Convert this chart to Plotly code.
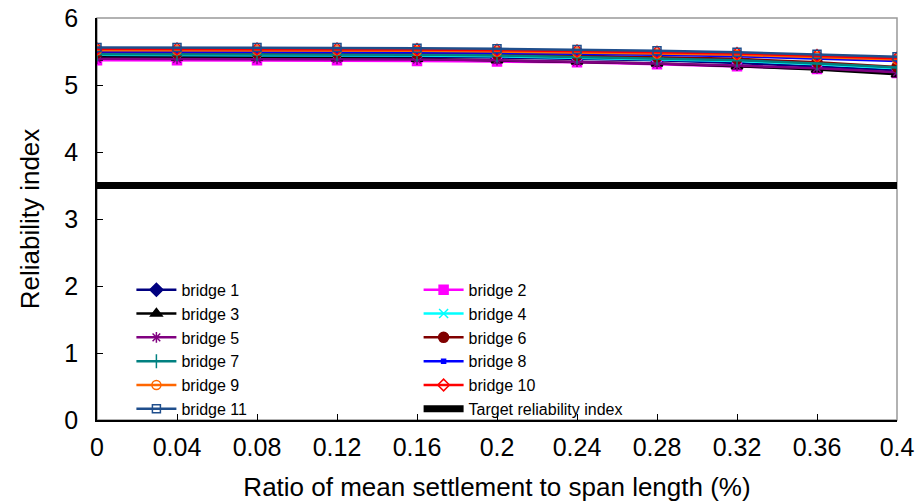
import plotly.graph_objects as go

# settlement ratio (%) on the x axis
ratio = [0, 0.04, 0.08, 0.12, 0.16, 0.2, 0.24, 0.28, 0.32, 0.36, 0.4]
tick_text = ["0", "0.04", "0.08", "0.12", "0.16", "0.2", "0.24", "0.28", "0.32", "0.36", "0.4"]

# reliability index of each bridge
bridge_1 = [5.43, 5.43, 5.43, 5.43, 5.42, 5.41, 5.39, 5.37, 5.33, 5.28, 5.22]
bridge_2 = [5.37, 5.37, 5.37, 5.37, 5.36, 5.35, 5.34, 5.31, 5.28, 5.24, 5.18]
bridge_3 = [5.41, 5.41, 5.41, 5.40, 5.39, 5.37, 5.35, 5.32, 5.28, 5.23, 5.16]
bridge_4 = [5.45, 5.45, 5.45, 5.45, 5.44, 5.43, 5.41, 5.39, 5.36, 5.31, 5.25]
bridge_5 = [5.39, 5.39, 5.39, 5.39, 5.38, 5.37, 5.35, 5.32, 5.29, 5.25, 5.19]
bridge_6 = [5.48, 5.48, 5.48, 5.48, 5.47, 5.46, 5.44, 5.42, 5.39, 5.34, 5.27]
bridge_7 = [5.46, 5.46, 5.46, 5.46, 5.45, 5.44, 5.42, 5.40, 5.37, 5.32, 5.26]
bridge_8 = [5.50, 5.50, 5.50, 5.50, 5.49, 5.48, 5.47, 5.45, 5.43, 5.40, 5.36]
bridge_9 = [5.52, 5.52, 5.52, 5.52, 5.51, 5.50, 5.49, 5.47, 5.45, 5.42, 5.38]
bridge_10 = [5.54, 5.54, 5.54, 5.54, 5.53, 5.52, 5.51, 5.49, 5.47, 5.44, 5.40]
bridge_11 = [5.56, 5.56, 5.56, 5.56, 5.55, 5.54, 5.53, 5.51, 5.49, 5.46, 5.42]

target_x = [0, 0.4]
target = [3.5, 3.5]

FONT = "Arial, Liberation Sans, sans-serif"

# name, values, colour, marker symbol, marker size, legend
series = [
    ("bridge 1", bridge_1, "#000080", "diamond", 10, "legend"),
    ("bridge 2", bridge_2, "#FF00FF", "square", 9, "legend2"),
    ("bridge 3", bridge_3, "#000000", "triangle-up", 10, "legend"),
    ("bridge 4", bridge_4, "#00FFFF", "x-thin-open", 9, "legend2"),
    ("bridge 5", bridge_5, "#800080", "asterisk-open", 9, "legend"),
    ("bridge 6", bridge_6, "#800000", "circle", 10, "legend2"),
    ("bridge 7", bridge_7, "#008080", "cross-thin-open", 10, "legend"),
    ("bridge 8", bridge_8, "#0000FF", "square", 4, "legend2"),
    ("bridge 9", bridge_9, "#FF6600", "circle-open", 9, "legend"),
    ("bridge 10", bridge_10, "#FF0000", "diamond-open", 9, "legend2"),
    ("bridge 11", bridge_11, "#1F4E8C", "square-open", 8, "legend"),
]

fig = go.Figure()

for name, vals, color, symbol, size, leg in series:
    fig.add_trace(go.Scatter(
        x=ratio,
        y=vals,
        mode="lines+markers",
        name=name,
        legend=leg,
        line=dict(color=color, width=2.5),
        marker=dict(symbol=symbol, size=size, color=color,
                    line=dict(color=color, width=1.5)),
    ))

fig.add_trace(go.Scatter(
    x=target_x,
    y=target,
    mode="lines",
    name="Target reliability index",
    legend="legend2",
    line=dict(color="black", width=7),
))

# gray frame on top/right like the original
fig.add_shape(type="rect", xref="paper", yref="paper", x0=0, x1=1, y0=0, y1=1,
              line=dict(color="#999999", width=1.5), layer="below")

legend_style = dict(
    font=dict(family=FONT, size=16, color="black"),
    bgcolor="rgba(0,0,0,0)",
    yanchor="top",
    xanchor="left",
    tracegroupgap=0,
    itemwidth=40,
)

fig.update_layout(
    width=918,
    height=502,
    margin=dict(l=97, r=21, t=18, b=82),
    plot_bgcolor="white",
    paper_bgcolor="white",
    font=dict(family=FONT, color="black"),
    legend=dict(x=0.043, y=0.366, **legend_style),
    legend2=dict(x=0.402, y=0.366, **legend_style),
    xaxis=dict(
        range=[0, 0.4],
        tickvals=ratio,
        ticktext=tick_text,
        ticks="inside",
        ticklen=6,
        tickcolor="black",
        showline=True,
        linecolor="black",
        linewidth=1.5,
        showgrid=False,
        zeroline=False,
        automargin=False,
        ticklabeloverflow="allow",
        tickfont=dict(size=25),
        ticklabelstandoff=4,
        title=dict(text="Ratio of mean settlement to span length (%)", font=dict(size=26), standoff=18),
    ),
    yaxis=dict(
        range=[0, 6],
        dtick=1,
        ticks="inside",
        ticklen=6,
        tickcolor="black",
        showline=True,
        linecolor="black",
        linewidth=1.5,
        showgrid=False,
        zeroline=False,
        automargin=False,
        ticklabeloverflow="allow",
        tickfont=dict(size=25),
        ticklabelstandoff=12,
        title=dict(text="Reliability index", font=dict(size=26), standoff=17),
    ),
)

# drop the default 8px body margin so the figure fills the window
fig.write_html("out.html", config={"displayModeBar": False},
               post_script="document.body.style.margin='0';")
